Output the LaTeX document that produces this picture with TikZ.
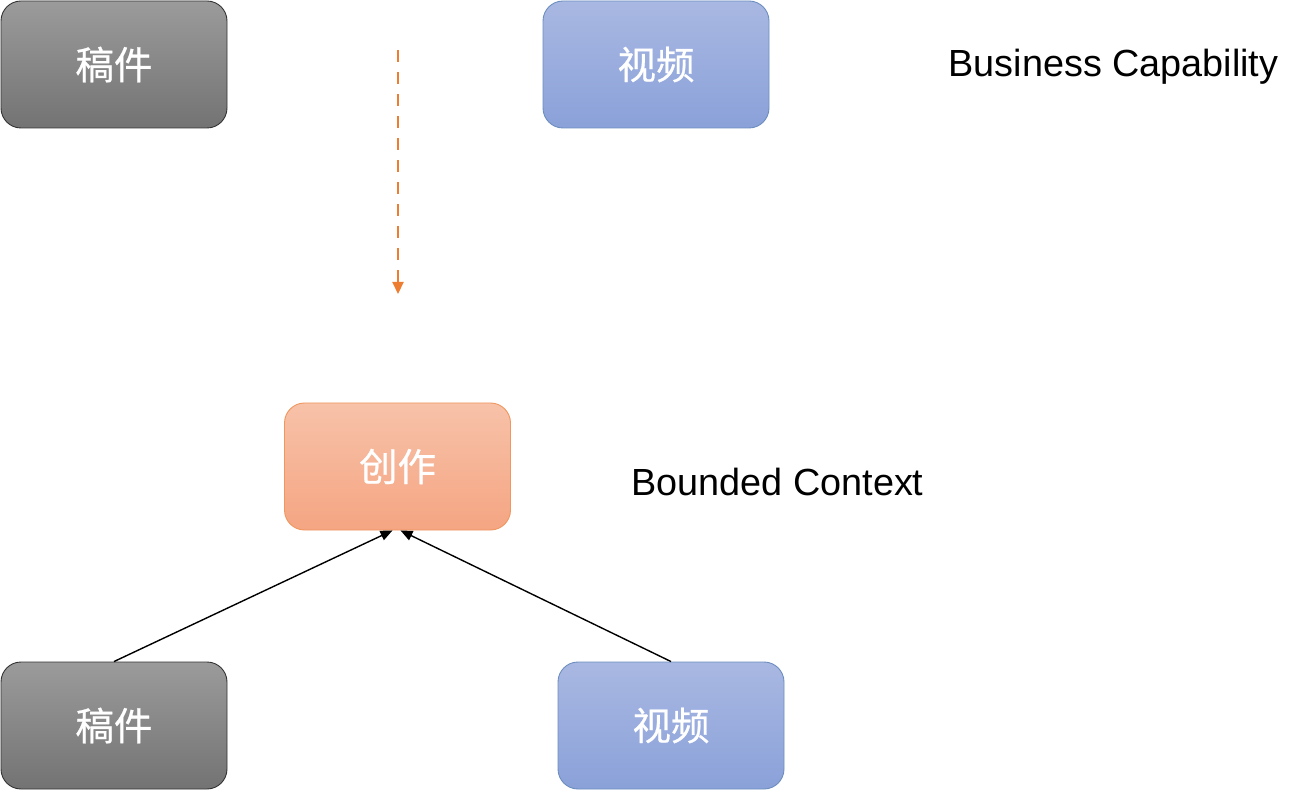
\documentclass[tikz,border=0pt]{standalone}
\usepackage{fontspec}
\setmainfont{Liberation Sans}
\newfontfamily\cjk[FakeBold=0.6]{Noto Sans CJK SC}
\usetikzlibrary{arrows.meta}
\definecolor{grayTop}{HTML}{9B9B9B}
\definecolor{grayBot}{HTML}{737373}
\definecolor{grayLine}{HTML}{333333}
\definecolor{blueTop}{HTML}{A9B8E2}
\definecolor{blueBot}{HTML}{8AA1D9}
\definecolor{blueLine}{HTML}{6C8EBF}
\definecolor{orgTop}{HTML}{F7C2A9}
\definecolor{orgBot}{HTML}{F5A582}
\definecolor{orgLine}{HTML}{F0965E}
\definecolor{dashOrg}{HTML}{ED7D31}
\tikzset{
  card/.style={rounded corners=20pt, minimum width=226pt, minimum height=127pt,
    inner sep=0pt, line width=0.9pt, text=white, font=\cjk\fontsize{38.5}{44}\selectfont},
  graycard/.style={card, draw=grayLine, top color=grayTop, bottom color=grayBot},
  bluecard/.style={card, draw=blueLine, top color=blueTop, bottom color=blueBot},
  orgcard/.style={card, draw=orgLine, top color=orgTop, bottom color=orgBot},
  lbl/.style={font=\fontsize{37.8}{44}\selectfont, text=black, inner sep=0pt},
  link/.style={line width=1.4pt, -{Triangle[length=12pt,width=10pt]}},
  dashlink/.style={draw=dashOrg, line width=2.2pt, dash pattern=on 12pt off 10pt,
    -{Triangle[length=12pt,width=11pt]}, color=dashOrg}
}
\begin{document}
\begin{tikzpicture}[x=1pt,y=-1pt]
\useasboundingbox (0,0) rectangle (1302,791);
\node[graycard] (gj1) at (114,64.5) {稿件};
\node[bluecard] (sp1) at (656,64.5) {视频};
\node[lbl] (bc) at (1113.5,67) {Business Capability};
\coordinate (ds) at (398,50);
\coordinate (de) at (398,294);
\draw[dashlink] (ds) -- (de);
\node[orgcard] (cz) at (397.5,466.5) {创作};
\node[lbl] (bdc) at (777.5,482) {Bounded Context};
\node[graycard] (gj2) at (114,725.5) {稿件};
\node[bluecard] (sp2) at (671,725.5) {视频};
\draw[link] (gj2.north) -- ([xshift=-5pt]cz.south);
\draw[link] (sp2.north) -- ([xshift=3pt]cz.south);
\end{tikzpicture}
\end{document}
